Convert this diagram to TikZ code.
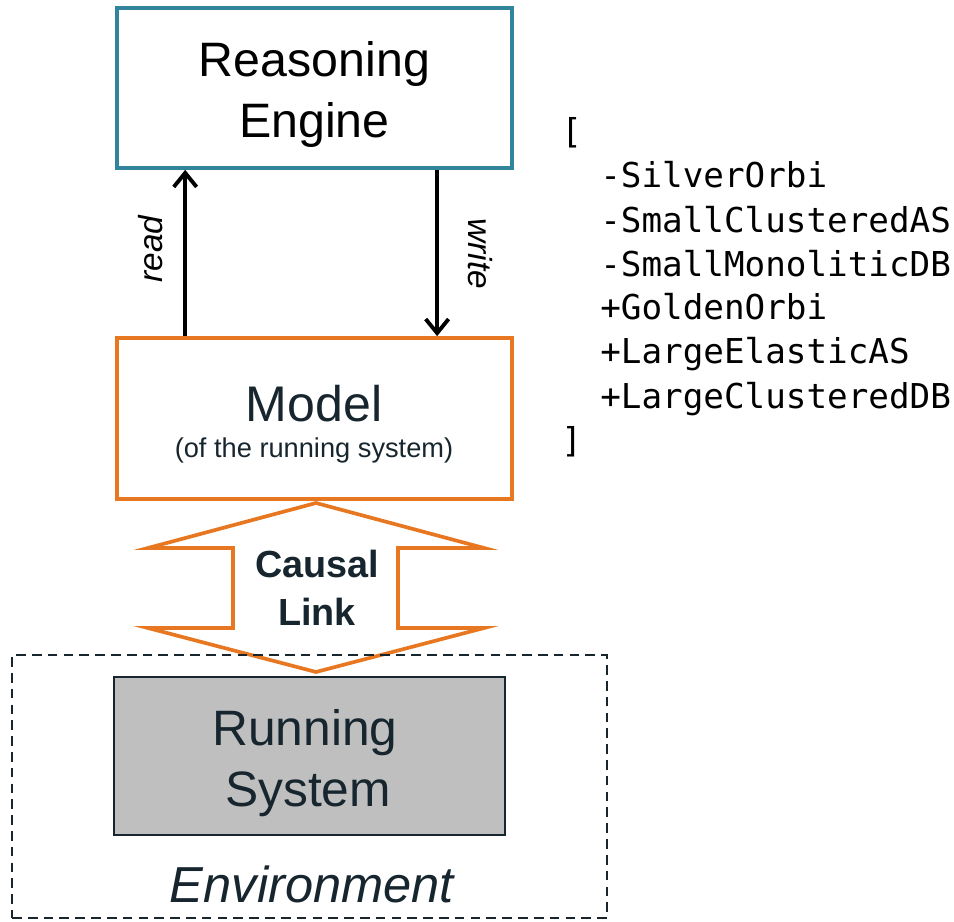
\documentclass[tikz,border=0pt]{standalone}
\usepackage{fontspec}
\setmainfont{Liberation Sans}
\newfontfamily\monofont{DejaVu Sans Mono}
\usetikzlibrary{arrows.meta}
\definecolor{reblue}{HTML}{31849B}
\definecolor{morange}{HTML}{E87722}
\definecolor{dk}{HTML}{17262E}
\definecolor{rsgray}{HTML}{BFBFBF}
\begin{document}
\begin{tikzpicture}[x=0.02cm,y=-0.02cm,
  boxre/.style={draw=reblue,line width=2.1pt,minimum width=7.9cm,minimum height=3.2cm,inner sep=0pt},
  boxmodel/.style={draw=morange,line width=2.1pt,minimum width=7.9cm,minimum height=3.22cm,inner sep=0pt},
  boxrs/.style={draw=dk,fill=rsgray,line width=1.2pt,minimum width=7.82cm,minimum height=3.16cm,inner sep=0pt},
  boxenv/.style={draw=dk,line width=1.1pt,dash pattern=on 5.5pt off 3.5pt,minimum width=11.9cm,minimum height=5.26cm,inner sep=0pt},
  bigtxt/.style={anchor=base,inner sep=0pt,font=\fontsize{27.5pt}{33pt}\selectfont},
  modeltxt/.style={anchor=base,inner sep=0pt,text=dk,font=\fontsize{28.5pt}{34pt}\selectfont},
  subtxt/.style={anchor=base,inner sep=0pt,text=dk,font=\fontsize{15.5pt}{18pt}\selectfont},
  causaltxt/.style={anchor=base,inner sep=0pt,text=dk,font=\fontsize{21.5pt}{26pt}\selectfont\bfseries},
  rstxt/.style={anchor=base,inner sep=0pt,text=dk,font=\fontsize{28.3pt}{34pt}\selectfont},
  envtxt/.style={anchor=base,inner sep=0pt,text=dk,font=\fontsize{28.8pt}{34pt}\selectfont\itshape},
  rwtxt/.style={anchor=base,inner sep=0pt,font=\fontsize{19pt}{23pt}\selectfont\itshape},
  listtxt/.style={anchor=base west,inner sep=0pt,font=\monofont\fontsize{19.5pt}{23pt}\selectfont},
  rwarrow/.style={line width=2.2pt,-{Straight Barb[length=8pt,width=13pt]}},
  causalshape/.style={draw=morange,line width=2.1pt,line join=miter}
]
\useasboundingbox (0,0) rectangle (954,922);

% boxes
\node[boxre] (re) at (314.5,88) {};
\node[boxmodel] (model) at (314.5,418.5) {};

% texts in boxes
\node[bigtxt] (re1) at (314.5,77) {Reasoning};
\node[bigtxt] (re2) at (314.5,138) {Engine};
\node[modeltxt] (m1) at (314,421) {Model};
\node[subtxt] (m2) at (314,458) {(of the running system)};

% read / write arrows
\draw[rwarrow] ([xshift=1.4cm]model.north west) -- ([xshift=1.4cm]re.south west);
\draw[rwarrow] ([xshift=6.44cm]re.south west) -- ([xshift=6.44cm]model.north west);
\node[rwtxt,rotate=90] (read) at (162,249) {read};
\node[rwtxt,rotate=-90] (write) at (468,254) {write};

% causal link double arrow
\draw[causalshape] (316,503) -- (484,548) -- (398,548) -- (398,628) -- (484,628)
  -- (316,672) -- (148,628) -- (233,628) -- (233,548) -- (148,548) -- cycle;
\node[causaltxt] (c1) at (317,577) {Causal};
\node[causaltxt] (c2) at (317,625) {Link};

% environment and running system
\node[boxenv] (env) at (309.5,786.5) {};
\node[boxrs] (rs) at (309.5,756) {};
\node[rstxt] (rs1) at (305,745) {Running};
\node[rstxt] (rs2) at (308,806) {System};
\node[envtxt] (envt) at (312,902) {Environment};

% list
\node[listtxt] (lb) at (561,144) {[};
\node[listtxt] (l1) at (600,188) {-SilverOrbi};
\node[listtxt] (l2) at (600,233) {-SmallClusteredAS};
\node[listtxt] (l3) at (600,277) {-SmallMonoliticDB};
\node[listtxt] (l4) at (600,320) {+GoldenOrbi};
\node[listtxt] (l5) at (600,364) {+LargeElasticAS};
\node[listtxt] (l6) at (600,408) {+LargeClusteredDB};
\node[listtxt] (le) at (561,452) {]};
\end{tikzpicture}
\end{document}
